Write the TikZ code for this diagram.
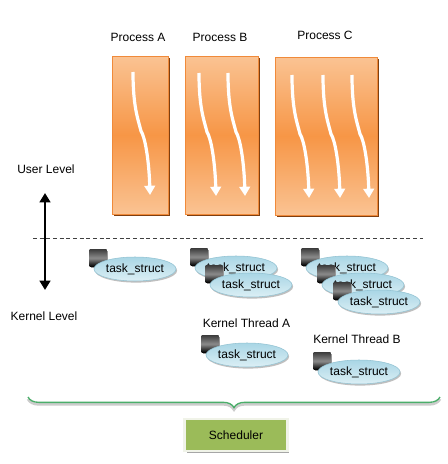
\documentclass[tikz,border=0pt]{standalone}
\usepackage{fontspec}
\setmainfont{Liberation Sans}
\usetikzlibrary{arrows.meta,shapes.geometric,shadows,decorations.pathreplacing}
\definecolor{procLight}{HTML}{FAC393}
\definecolor{procDark}{HTML}{F79646}
\definecolor{procEdge}{HTML}{F08A3A}
\definecolor{procShadow}{HTML}{7F3F10}
\definecolor{taskTop}{HTML}{A9D6E5}
\definecolor{taskBot}{HTML}{DCEFF5}
\definecolor{taskEdge}{HTML}{93C3D3}
\definecolor{braceGreen}{HTML}{4BAE6A}
\definecolor{schedFill}{HTML}{9BBB59}
\definecolor{schedEdge}{HTML}{F0F3E8}

\begin{document}
\begin{tikzpicture}[x=0.75pt,y=-0.75pt,font=\fontsize{9}{11}\selectfont,
    procbox/.style={rectangle,draw=procEdge,top color=procLight,bottom color=procLight,middle color=procDark,
        minimum height=118.5pt,inner sep=0pt,drop shadow={shadow xshift=1.5pt,shadow yshift=-1.5pt,fill=procShadow,opacity=1}},
    thread/.style={white,line width=2.4pt,-{Triangle[width=8pt,length=7pt]}},
    tsq/.style={rectangle,minimum size=12.75pt,inner sep=0pt,top color=black!75,bottom color=black,middle color=black!45,
        drop shadow={shadow xshift=1pt,shadow yshift=-1pt,fill=black!40,opacity=1}},
    tstruct/.style={ellipse,draw=taskEdge,top color=taskTop,bottom color=taskBot,minimum width=56pt,minimum height=18pt,inner sep=0pt,
        drop shadow={shadow xshift=0.8pt,shadow yshift=-1.2pt,fill=black!25,opacity=1}},
    sched/.style={rectangle,fill=schedFill,draw=schedEdge,line width=2.2pt,minimum width=77pt,minimum height=24pt,
        drop shadow={shadow xshift=1.5pt,shadow yshift=-1.5pt,fill=black!35,opacity=1}}]
    \useasboundingbox[fill=white] (0,0) rectangle (448,464);

    \node (labA) at (138,37) {Process A};
    \node (labB) at (220,37) {Process B};
    \node (labC) at (325,35) {Process C};
    \node[procbox,minimum width=42pt] (procA) at (140,135) {};
    \node[procbox,minimum width=54.75pt] (procB) at (221.5,135) {};
    \node[procbox,minimum width=76.5pt] (procC) at (326,136) {};

    \foreach \x/\y in {133/72,199/73,228/73,292/75,323/75,352/75}
        \draw[thread] (\x,\y) .. controls +(0,35) and +(-3,-12) .. ++(8,59)
            .. controls +(4,6) and +(-1,-35) .. ++(9,64);

    \node (user) at (46,169) {User Level};
    \node (kern) at (44,316) {Kernel Level};
    \coordinate (lvTop) at (45,193);
    \coordinate (lvBot) at (45,290);
    \draw[line width=2.2pt,{Triangle[width=8pt,length=7pt]}-{Triangle[width=8pt,length=7pt]}] (lvTop) -- (lvBot);

    \coordinate (dashL) at (33,238);
    \coordinate (dashR) at (423,238);
    \draw[black!75,dash pattern=on 3pt off 2pt] (dashL) -- (dashR);

    \node (ktA) at (246.5,323) {Kernel Thread A};
    \node (ktB) at (357,339) {Kernel Thread B};
    \foreach \n/\ex/\ey in {a/135/269,b1/236/268,b2/251/285,c1/347/268,c2/363/285,c3/379/302,ka/247/355,kb/359/372}{
        \node[tsq] (sq\n) at (\ex-37,\ey-11) {};
        \node[tstruct] (ts\n) at (\ex,\ey) {task\_struct};
    }

    \coordinate (brL) at (28,397);
    \coordinate (brR) at (440,397);
    \draw[black!20,line width=2pt,decorate,decoration={brace,mirror,amplitude=8pt}] ([yshift=-1.5pt]brL) -- ([yshift=-1.5pt]brR);
    \draw[braceGreen,line width=1pt,decorate,decoration={brace,mirror,amplitude=8pt}] (brL) -- (brR);

    \node[sched] (sched) at (236,435) {Scheduler};
\end{tikzpicture}
\end{document}
